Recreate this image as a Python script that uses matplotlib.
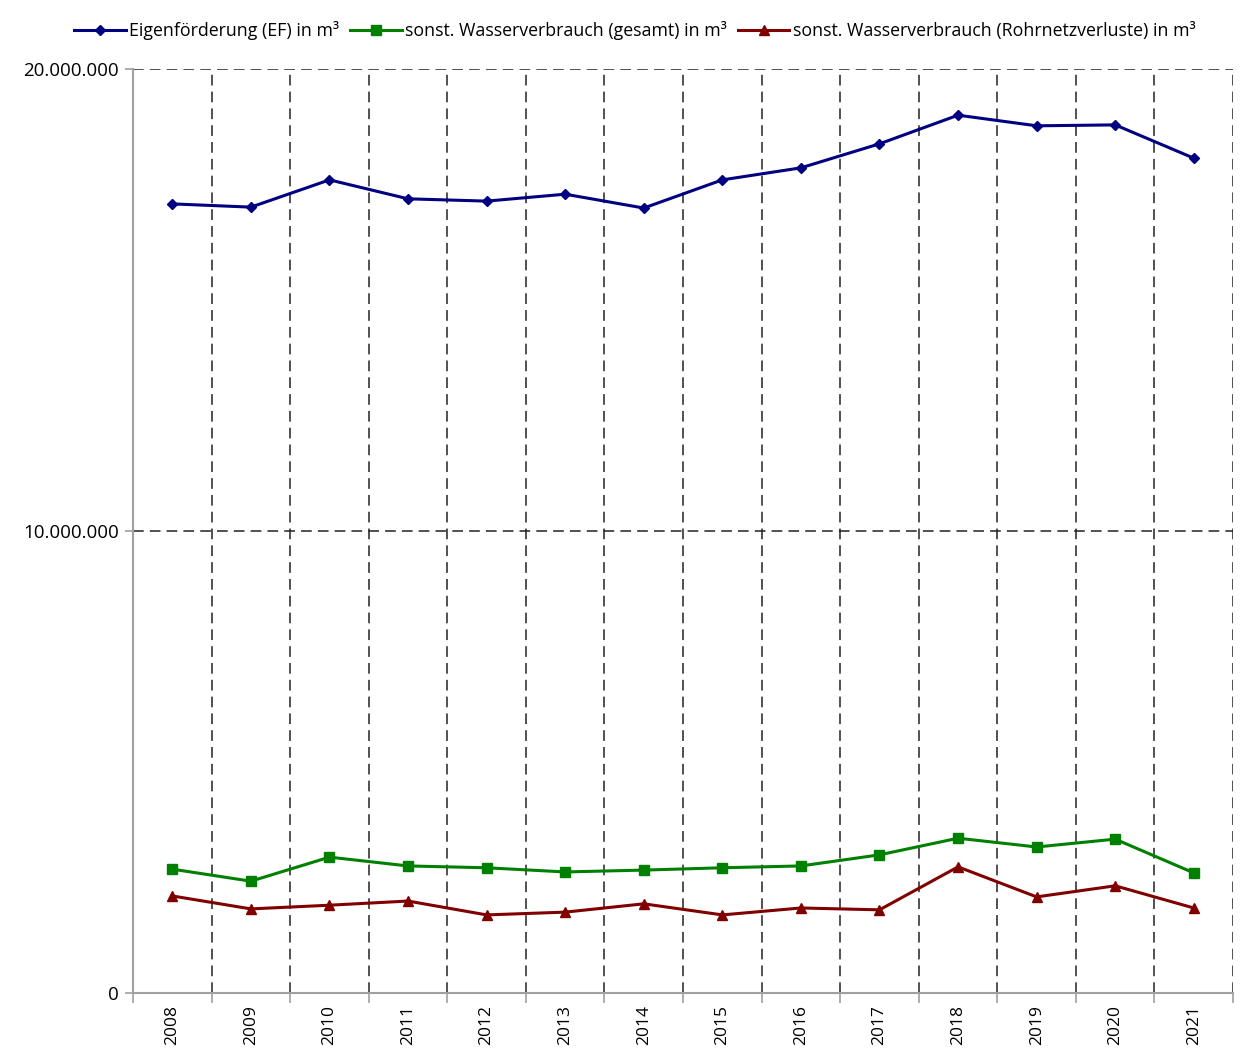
import numpy as np
import matplotlib.pyplot as plt
from matplotlib.ticker import FuncFormatter

plt.rcParams['font.family'] = ['Open Sans', 'DejaVu Sans']

# Jahre
years = ['2008', '2009', '2010', '2011', '2012', '2013', '2014',
         '2015', '2016', '2017', '2018', '2019', '2020', '2021']
# Eigenförderung (EF) in m³
eigenfoerderung = [17080000, 17010000, 17600000, 17190000, 17140000, 17290000, 16990000,
                   17600000, 17860000, 18380000, 19000000, 18770000, 18790000, 18070000]
# sonst. Wasserverbrauch (gesamt) in m³
verbrauch_gesamt = [2680000, 2420000, 2940000, 2750000, 2710000, 2620000, 2660000,
                    2710000, 2750000, 2990000, 3350000, 3160000, 3330000, 2600000]
# sonst. Wasserverbrauch (Rohrnetzverluste) in m³
rohrnetzverluste = [2100000, 1820000, 1900000, 1990000, 1690000, 1750000, 1930000,
                    1690000, 1840000, 1800000, 2730000, 2080000, 2320000, 1840000]

x = np.arange(len(years))

fig = plt.figure(figsize=(12.41, 10.5), dpi=100, facecolor='white')
ax = fig.add_axes([0.1072, 0.0543, 0.8864, 0.88])

# Gitter (gestrichelt)
for b in np.arange(0.5, len(years), 1.0):
    ax.axvline(b, color='#222222', linestyle=(0, (7, 4)), linewidth=1.1, zorder=1)
for v in [10000000, 20000000]:
    ax.axhline(v, color='#222222', linestyle=(0, (7, 4)), linewidth=1.1, zorder=1)

ax.plot(x, eigenfoerderung, color='#000080', marker='D', markersize=5.5, linewidth=2.2,
        label='Eigenförderung (EF) in m³', zorder=3)
ax.plot(x, verbrauch_gesamt, color='#008000', marker='s', markersize=6.5, linewidth=2.2,
        label='sonst. Wasserverbrauch (gesamt) in m³', zorder=3)
ax.plot(x, rohrnetzverluste, color='#800000', marker='^', markersize=7, linewidth=2.2,
        label='sonst. Wasserverbrauch (Rohrnetzverluste) in m³', zorder=3)

ax.set_xlim(-0.5, len(years) - 0.5)
ax.set_ylim(0, 20000000)
ax.set_yticks([0, 10000000, 20000000])
ax.yaxis.set_major_formatter(FuncFormatter(lambda v, p: f'{int(v):,}'.replace(',', '.')))

ax.set_xticks(x)
ax.set_xticklabels(years, rotation=90)
ax.set_xticks(np.arange(-0.5, len(years), 1.0), minor=True)
ax.tick_params(axis='x', which='major', length=0, pad=9, labelsize=12.5)
ax.tick_params(axis='x', which='minor', length=7, color='#a0a0a0', width=1.2)
ax.tick_params(axis='y', length=6, color='#a0a0a0', width=1.2, labelsize=13.5, pad=4)

for s in ['top', 'right']:
    ax.spines[s].set_visible(False)
for s in ['left', 'bottom']:
    ax.spines[s].set_color('#a0a0a0')
    ax.spines[s].set_linewidth(1.5)

fig.legend(loc='center', bbox_to_anchor=(0.5117, 0.9705), ncol=3, frameon=False,
           fontsize=12.8, handlelength=2.9, handletextpad=0.2, columnspacing=0.6,
           borderaxespad=0.0, borderpad=0.0)

plt.savefig('out.png', dpi=100, facecolor='white')
